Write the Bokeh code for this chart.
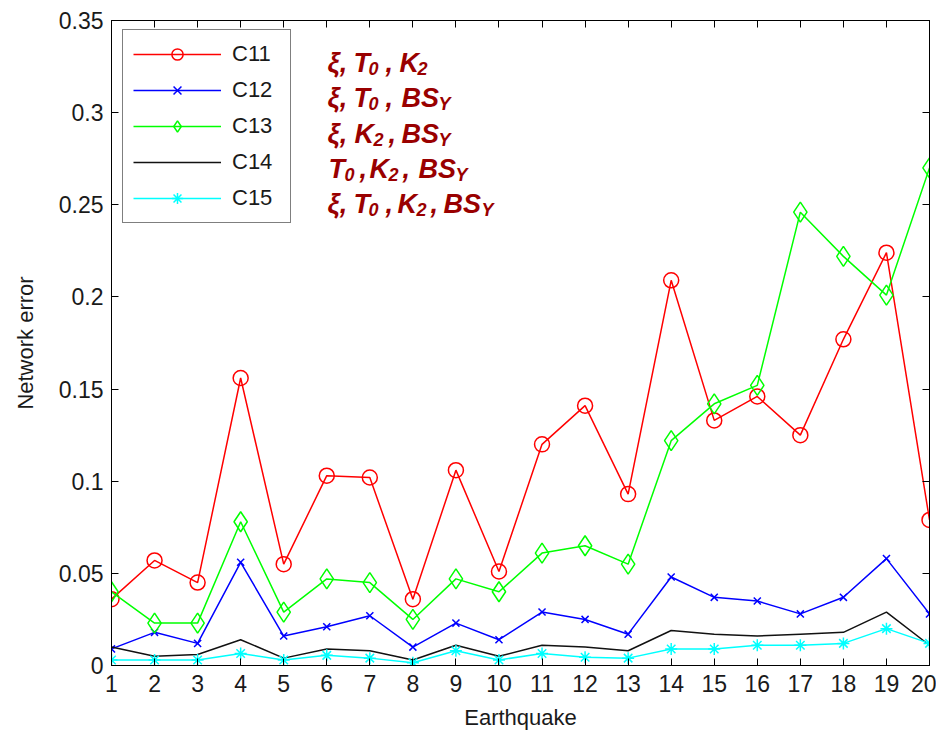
from bokeh.plotting import figure
from bokeh.models import (Range1d, FixedTicker, LinearAxis, Legend, LegendItem,
                          Label, NumeralTickFormatter)
from bokeh.embed import file_html
from bokeh.resources import INLINE

# ---------------- data ----------------
EARTHQUAKES = list(range(1, 21))
C11 = [0.036, 0.057, 0.045, 0.156, 0.055, 0.103, 0.102, 0.036, 0.106, 0.051,
       0.120, 0.141, 0.093, 0.209, 0.133, 0.146, 0.125, 0.177, 0.224, 0.079]
C12 = [0.009, 0.018, 0.012, 0.056, 0.016, 0.021, 0.027, 0.010, 0.023, 0.014,
       0.029, 0.025, 0.017, 0.048, 0.037, 0.035, 0.028, 0.037, 0.058, 0.028]
C13 = [0.040, 0.023, 0.023, 0.078, 0.029, 0.047, 0.045, 0.025, 0.047, 0.040,
       0.061, 0.065, 0.055, 0.122, 0.142, 0.152, 0.246, 0.222, 0.201, 0.270]
C14 = [0.010, 0.005, 0.006, 0.014, 0.004, 0.009, 0.008, 0.003, 0.011, 0.005,
       0.011, 0.010, 0.008, 0.019, 0.017, 0.016, 0.017, 0.018, 0.029, 0.011]
C15 = [0.003, 0.003, 0.003, 0.0065, 0.003, 0.0055, 0.004, 0.0015, 0.008, 0.003,
       0.0065, 0.0045, 0.004, 0.009, 0.009, 0.011, 0.011, 0.012, 0.020, 0.012]
Y_TICKS = [0, 0.05, 0.1, 0.15, 0.2, 0.25, 0.3, 0.35]
SERIES_NAMES = ["C11", "C12", "C13", "C14", "C15"]

# parameter annotations: (text, subscript?) pieces per row
PARAM_ROWS = [
    [("ξ,", False), ("T", False), ("0", True), (",", False), ("K", False), ("2", True)],
    [("ξ,", False), ("T", False), ("0", True), (",", False), ("BS", False), ("Y", True)],
    [("ξ,", False), ("K", False), ("2", True), (",", False), ("BS", False), ("Y", True)],
    [("T", False), ("0", True), (",", False), ("K", False), ("2", True), (",", False),
     ("BS", False), ("Y", True)],
    [("ξ,", False), ("T", False), ("0", True), (",", False), ("K", False), ("2", True),
     (",", False), ("BS", False), ("Y", True)],
]
# horizontal pixel positions (page coords) of each piece
PARAM_X = [
    [327, 353, 368, 385, 399, 417],
    [327, 353, 368, 385, 401, 438],
    [327, 354, 373, 388, 401, 438],
    [328, 344, 359, 369, 388, 402, 418, 455],
    [327, 353, 368, 385, 397, 416, 430, 443, 481],
]
PARAM_BASE_Y = [62, 97, 133, 168, 203]

# ---------------- layout ----------------
FONT = "Liberation Sans"
TXT = "#1a1a1a"
BL, BT, BR, BB = 111, 20, 7, 65
FW, FH = 818, 645
FRAME_LEFT = BL
FRAME_BOTTOM = BT + FH

p = figure(frame_width=FW, frame_height=FH, output_backend="svg", toolbar_location=None,
           x_range=Range1d(1, 20), y_range=Range1d(0, 0.35),
           min_border_left=BL, min_border_top=BT, min_border_right=BR, min_border_bottom=BB)
p.background_fill_color = "white"
p.border_fill_color = "white"
p.outline_line_color = "black"
p.outline_line_width = 1
p.xgrid.visible = False
p.ygrid.visible = False

def style_axis(ax, show_labels=True):
    ax.axis_line_color = "black"
    ax.axis_line_width = 1
    ax.major_tick_in = 7
    ax.major_tick_out = 0
    ax.major_tick_line_color = "black"
    ax.minor_tick_line_color = None
    ax.major_label_text_font = FONT
    if show_labels:
        ax.major_label_text_font_size = "23px"
        ax.major_label_text_color = TXT
    else:
        ax.major_label_text_font_size = "1px"
        ax.major_label_text_color = None
        ax.major_label_standoff = 0

xt = FixedTicker(ticks=EARTHQUAKES)
yt = FixedTicker(ticks=Y_TICKS)
p.xaxis.ticker = xt
p.yaxis.ticker = yt
p.yaxis.formatter = NumeralTickFormatter(format="0.[00]")
style_axis(p.xaxis[0])
style_axis(p.yaxis[0])
p.xaxis.major_label_standoff = 9
p.yaxis.major_label_standoff = 8
p.xaxis.axis_label = "Earthquake"
p.yaxis.axis_label = "Network error"
for ax in (p.xaxis[0], p.yaxis[0]):
    ax.axis_label_text_font = FONT
    ax.axis_label_text_font_size = "22px"
    ax.axis_label_text_font_style = "normal"
    ax.axis_label_text_color = TXT
p.xaxis.axis_label_standoff = 10
p.yaxis.axis_label_standoff = 18

top_ax = LinearAxis(ticker=xt)
right_ax = LinearAxis(ticker=yt)
style_axis(top_ax, False)
style_axis(right_ax, False)
p.add_layout(top_ax, "above")
p.add_layout(right_ax, "right")

# ---------------- series ----------------
LW = 1.5
items = []
r = p.line(EARTHQUAKES, C11, color="#ff0000", line_width=LW)
m = p.scatter(EARTHQUAKES, C11, marker="circle", size=15, fill_color=None,
              line_color="#ff0000", line_width=LW)
items.append(LegendItem(label=SERIES_NAMES[0], renderers=[r, m]))

r = p.line(EARTHQUAKES, C12, color="#0000ff", line_width=LW)
m = p.scatter(EARTHQUAKES, C12, marker="x", size=10, line_color="#0000ff", line_width=LW)
items.append(LegendItem(label=SERIES_NAMES[1], renderers=[r, m]))

r = p.line(EARTHQUAKES, C13, color="#00ff00", line_width=LW)
m = p.scatter(EARTHQUAKES, C13, marker="diamond", size=20, fill_color=None,
              line_color="#00ff00", line_width=LW)
items.append(LegendItem(label=SERIES_NAMES[2], renderers=[r, m]))

r = p.line(EARTHQUAKES, C14, color="#111111", line_width=LW)
items.append(LegendItem(label=SERIES_NAMES[3], renderers=[r]))

r = p.line(EARTHQUAKES, C15, color="#00ffff", line_width=LW)
m = p.scatter(EARTHQUAKES, C15, marker="asterisk", size=12, line_color="#00ffff", line_width=LW)
items.append(LegendItem(label=SERIES_NAMES[4], renderers=[r, m]))

legend = Legend(items=items, location=(11, 442), padding=10, spacing=8,
                glyph_width=88, glyph_height=28, label_height=28, label_width=48,
                label_standoff=11, margin=0,
                label_text_font=FONT, label_text_font_size="22px", label_text_color=TXT,
                border_line_color="black", border_line_width=1.5,
                background_fill_color="white", background_fill_alpha=1.0)
p.add_layout(legend, "center")

# ---------------- parameter annotations ----------------
for row, xs, base in zip(PARAM_ROWS, PARAM_X, PARAM_BASE_Y):
    for (txt, sub), xpx in zip(row, xs):
        y = base + (6 if sub else 0)
        p.add_layout(Label(x=xpx - FRAME_LEFT, y=FRAME_BOTTOM - y,
                           x_units="screen", y_units="screen", text=txt,
                           text_font=FONT, text_font_style="bold italic",
                           text_font_size="18px" if sub else "27px",
                           text_color="#990000", text_baseline="alphabetic",
                           text_align="left"))

open("out.html", "w").write(file_html(p, INLINE))
